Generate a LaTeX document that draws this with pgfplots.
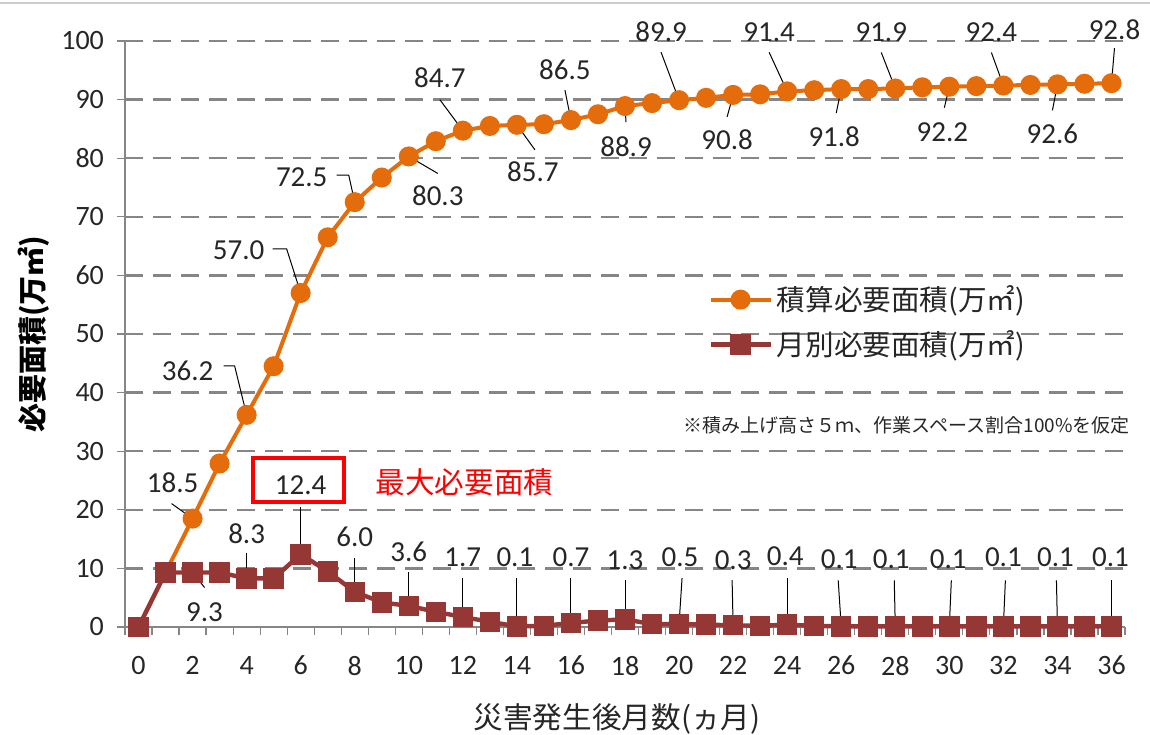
\documentclass[border=0pt]{standalone}
\usepackage{pgfplots}
\pgfplotsset{compat=1.18}
\usepackage{fontspec}
\setmainfont{Carlito}
\newfontfamily\jp{Noto Sans CJK JP}
\definecolor{cumc}{HTML}{E46C0A}
\definecolor{monc}{HTML}{953735}
\definecolor{gridc}{HTML}{868686}
\definecolor{txtc}{HTML}{262626}
\newcommand{\lbl}[7]{%
  \draw[black, line width=0.5pt] (axis cs:#1,#2) -- ++(#3pt,#4pt);
  \path (axis cs:#1,#2) ++(#5pt,#6pt) node[lblst]{#7};}
\newcommand{\lbls}[8]{%
  \draw[black, line width=0.5pt] (axis cs:#1,#2) -- ++(#3pt,#4pt) -- ++(#5pt,0pt);
  \path (axis cs:#1,#2) ++(#6pt,#7pt) node[lblst]{#8};}
\pgfplotstableread{
x cum mon
0 0 0
1 9.3 9.3
2 18.5 9.3
3 27.9 9.3
4 36.2 8.3
5 44.5 8.3
6 57.0 12.4
7 66.5 9.5
8 72.5 6.0
9 76.7 4.2
10 80.3 3.6
11 82.9 2.6
12 84.7 1.7
13 85.5 0.9
14 85.7 0.1
15 85.8 0.2
16 86.5 0.7
17 87.5 1.1
18 88.9 1.3
19 89.4 0.5
20 89.9 0.5
21 90.3 0.4
22 90.8 0.3
23 90.9 0.2
24 91.4 0.4
25 91.6 0.2
26 91.8 0.1
27 91.8 0.1
28 91.9 0.1
29 92.1 0.1
30 92.2 0.1
31 92.3 0.1
32 92.4 0.1
33 92.5 0.1
34 92.6 0.1
35 92.7 0.1
36 92.8 0.1
}\data
\begin{document}
\begin{tikzpicture}[lblst/.style={font=\fontsize{14.5}{16}\selectfont, text=txtc, inner sep=1pt}]
\useasboundingbox (-62.5pt,-53.5pt) rectangle (512.5pt,313.5pt);
\draw[gray!40, line width=0.6pt] (-62.5pt,312pt) -- (512.5pt,312pt);
\begin{axis}[
  scale only axis, width=500pt, height=293pt,
  xmin=-0.5, xmax=36.5, ymin=0, ymax=100,
  clip=false,
  axis x line*=bottom, axis y line*=left,
  axis line style={gridc, line width=0.8pt, -},
  xtick={0,2,...,36},
  minor xtick={-0.5,0.5,...,36.5},
  ytick={0,10,...,100},
  tick align=outside,
  major x tick style={draw=none},
  minor x tick style={gridc, line width=0.6pt},
  minor tick length=4pt,
  major y tick style={gridc, line width=0.6pt},
  major tick length=4pt,
  ymajorgrids,
  grid style={gridc, line width=1.2pt, dash pattern=on 9pt off 5pt},
  /pgf/number format/assume math mode=true,
  ticklabel style={font=\fontsize{14}{16}\selectfont, text=txtc},
  xticklabel style={yshift=-7pt},
  yticklabel style={xshift=-3pt},
  xlabel={\jp 災害発生後月数(ヵ月)},
  xlabel style={font=\fontsize{14.8}{16}\selectfont, text=txtc, yshift=-7pt, xshift=-4pt},
  ylabel={\jp\bfseries 必要面積(万㎡)},
  ylabel style={font=\fontsize{14.5}{16}\selectfont, text=black, yshift=-1pt},
  legend style={draw=none, fill=none, at={(0.583,0.590)}, anchor=north west,
    font=\jp\fontsize{14.3}{16}\selectfont, text=txtc, row sep=4.5pt, inner sep=0pt},
  legend cell align=left,
  legend image code/.code={%
    \draw[#1, mark=none] (0pt,0pt) -- (30pt,0pt);
    \draw[#1, only marks] plot coordinates {(15pt,0pt)};},
]
\addplot[cumc, line width=2pt, mark=*, mark size=4pt, mark options={solid, fill=cumc, draw=cumc}] table[x=x, y=cum] {\data};
\addlegendentry{積算必要面積(万㎡)}
\addplot[monc, line width=2.2pt, mark=square*, mark size=4pt, mark options={solid, fill=monc, draw=monc}] table[x=x, y=mon] {\data};
\addlegendentry{月別必要面積(万㎡)}

% cumulative labels
\lbl{2}{18.5}{-10.5}{7.5}{-10}{18}{18.5}
\lbls{4}{36.2}{-6}{24.5}{-5.5}{-29.5}{22}{36.2}
\lbls{6}{57.0}{-7}{22}{-7}{-31}{21.5}{57.0}
\lbls{8}{72.5}{-3}{13.5}{-6}{-26.5}{12.5}{72.5}
\lbl{10}{80.3}{14.5}{-8.5}{14.5}{-19.5}{80.3}
\lbl{12}{84.7}{-11.5}{15.5}{-11.5}{26.5}{84.7}
\lbl{14}{85.7}{9}{-12.5}{8}{-23.5}{85.7}
\lbl{16}{86.5}{-3}{15}{-3}{25}{86.5}
\lbl{18}{88.9}{0.5}{-8}{0.5}{-20.5}{88.9}
\lbl{20}{89.9}{-9}{24}{-9}{34}{89.9}
\lbl{22}{90.8}{-3}{-11}{-3}{-22.5}{90.8}
\lbl{24}{91.4}{-9}{19.5}{-9}{29.5}{91.4}
\lbl{26}{91.8}{-2.5}{-12}{-3.5}{-24}{91.8}
\lbl{28}{91.9}{-7}{18}{-7}{28}{91.9}
\lbl{30}{92.2}{-2.5}{-10.5}{-3.5}{-22.5}{92.2}
\lbl{32}{92.4}{-6}{16.5}{-6}{26.5}{92.4}
\lbl{34}{92.6}{-2.5}{-13}{-2.5}{-24.5}{92.6}
\lbl{36}{92.8}{1.5}{17.5}{1.5}{26.5}{92.8}
% monthly labels
\lbl{2}{9.3}{6}{-7.5}{6}{-20}{9.3}
\lbl{4}{8.3}{0}{12.5}{0}{22.5}{8.3}
\lbl{6}{12.4}{0}{23.5}{0}{34.5}{12.4}
\lbl{8}{6.0}{0}{17}{0}{27.5}{6.0}
\lbl{10}{3.6}{0}{17}{0}{27}{3.6}
\lbl{12}{1.7}{0}{19.5}{0}{30}{1.7}
\lbl{14}{0.1}{0}{24}{-1}{34.5}{0.1}
\lbl{16}{0.7}{0}{22.5}{0}{33}{0.7}
\lbl{18}{1.3}{0}{19.5}{0}{29.5}{1.3}
\lbl{20}{0.5}{1.5}{23}{0.5}{33.5}{0.5}
\lbl{22}{0.3}{-0.5}{22.5}{0}{32.5}{0.3}
\lbl{24}{0.4}{0}{23.5}{-1}{34}{0.4}
\lbl{26}{0.1}{-1.5}{23}{-1}{33.5}{0.1}
\lbl{28}{0.1}{-0.5}{23}{-2}{33.5}{0.1}
\lbl{30}{0.1}{1}{23}{-0.5}{33.5}{0.1}
\lbl{32}{0.1}{1}{23}{0}{34.5}{0.1}
\lbl{34}{0.1}{-0.5}{23}{-1}{34.5}{0.1}
\lbl{36}{0.1}{0}{23}{-0.5}{34.5}{0.1}

\draw[red, line width=2pt] (axis cs:4.22,21.33) rectangle (axis cs:7.62,28.84);
\node[text=red, font=\jp\fontsize{14.8}{16}\selectfont] at (axis cs:12.06,24.74) {最大必要面積};
\node[anchor=east, text=txtc, font=\jp\fontsize{9.5}{11}\selectfont, inner sep=0pt] at (rel axis cs:1.005,0.345) {※積み上げ高さ５ｍ、作業スペース割合100\%を仮定};
\end{axis}
\end{tikzpicture}
\end{document}
